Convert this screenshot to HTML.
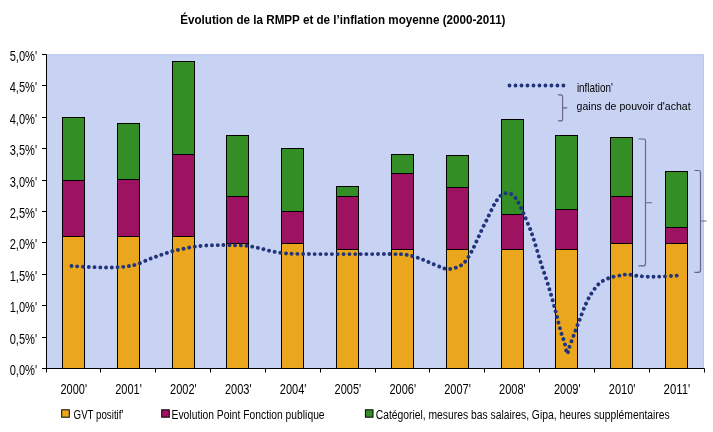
<!DOCTYPE html>
<html lang="fr"><head><meta charset="utf-8"><title>Évolution de la RMPP</title>
<style>
html,body{margin:0;padding:0;background:#fff;}
body{width:713px;height:432px;overflow:hidden;}
svg{display:block;}
text{font-family:"Liberation Sans",Arial,sans-serif;}
</style></head><body>
<svg width="713" height="432" viewBox="0 0 713 432">
<rect x="0" y="0" width="713" height="432" fill="#ffffff"/>
<rect x="46.0" y="54.3" width="658.0" height="314.2" fill="#c8d2f2"/>
<path d="M46.0 54.8 H703.5 V368.5" fill="none" stroke="#b9c5ee" stroke-width="1"/>
<rect x="62.5" y="236.5" width="22" height="132.0" fill="#eaa71e" stroke="#000000" stroke-width="1"/>
<rect x="62.5" y="180.5" width="22" height="56.0" fill="#9e1361" stroke="#000000" stroke-width="1"/>
<rect x="62.5" y="117.5" width="22" height="63.0" fill="#338f25" stroke="#000000" stroke-width="1"/>
<rect x="117.5" y="236.5" width="22" height="132.0" fill="#eaa71e" stroke="#000000" stroke-width="1"/>
<rect x="117.5" y="179.5" width="22" height="57.0" fill="#9e1361" stroke="#000000" stroke-width="1"/>
<rect x="117.5" y="123.5" width="22" height="56.0" fill="#338f25" stroke="#000000" stroke-width="1"/>
<rect x="172.5" y="236.5" width="22" height="132.0" fill="#eaa71e" stroke="#000000" stroke-width="1"/>
<rect x="172.5" y="154.5" width="22" height="82.0" fill="#9e1361" stroke="#000000" stroke-width="1"/>
<rect x="172.5" y="61.5" width="22" height="93.0" fill="#338f25" stroke="#000000" stroke-width="1"/>
<rect x="226.5" y="243.5" width="22" height="125.0" fill="#eaa71e" stroke="#000000" stroke-width="1"/>
<rect x="226.5" y="196.5" width="22" height="47.0" fill="#9e1361" stroke="#000000" stroke-width="1"/>
<rect x="226.5" y="135.5" width="22" height="61.0" fill="#338f25" stroke="#000000" stroke-width="1"/>
<rect x="281.5" y="243.5" width="22" height="125.0" fill="#eaa71e" stroke="#000000" stroke-width="1"/>
<rect x="281.5" y="211.5" width="22" height="32.0" fill="#9e1361" stroke="#000000" stroke-width="1"/>
<rect x="281.5" y="148.5" width="22" height="63.0" fill="#338f25" stroke="#000000" stroke-width="1"/>
<rect x="336.5" y="249.5" width="22" height="119.0" fill="#eaa71e" stroke="#000000" stroke-width="1"/>
<rect x="336.5" y="196.5" width="22" height="53.0" fill="#9e1361" stroke="#000000" stroke-width="1"/>
<rect x="336.5" y="186.5" width="22" height="10.0" fill="#338f25" stroke="#000000" stroke-width="1"/>
<rect x="391.5" y="249.5" width="22" height="119.0" fill="#eaa71e" stroke="#000000" stroke-width="1"/>
<rect x="391.5" y="173.5" width="22" height="76.0" fill="#9e1361" stroke="#000000" stroke-width="1"/>
<rect x="391.5" y="154.5" width="22" height="19.0" fill="#338f25" stroke="#000000" stroke-width="1"/>
<rect x="446.5" y="249.5" width="22" height="119.0" fill="#eaa71e" stroke="#000000" stroke-width="1"/>
<rect x="446.5" y="187.5" width="22" height="62.0" fill="#9e1361" stroke="#000000" stroke-width="1"/>
<rect x="446.5" y="155.5" width="22" height="32.0" fill="#338f25" stroke="#000000" stroke-width="1"/>
<rect x="501.5" y="249.5" width="22" height="119.0" fill="#eaa71e" stroke="#000000" stroke-width="1"/>
<rect x="501.5" y="214.5" width="22" height="35.0" fill="#9e1361" stroke="#000000" stroke-width="1"/>
<rect x="501.5" y="119.5" width="22" height="95.0" fill="#338f25" stroke="#000000" stroke-width="1"/>
<rect x="555.5" y="249.5" width="22" height="119.0" fill="#eaa71e" stroke="#000000" stroke-width="1"/>
<rect x="555.5" y="209.5" width="22" height="40.0" fill="#9e1361" stroke="#000000" stroke-width="1"/>
<rect x="555.5" y="135.5" width="22" height="74.0" fill="#338f25" stroke="#000000" stroke-width="1"/>
<rect x="610.5" y="243.5" width="22" height="125.0" fill="#eaa71e" stroke="#000000" stroke-width="1"/>
<rect x="610.5" y="196.5" width="22" height="47.0" fill="#9e1361" stroke="#000000" stroke-width="1"/>
<rect x="610.5" y="137.5" width="22" height="59.0" fill="#338f25" stroke="#000000" stroke-width="1"/>
<rect x="665.5" y="243.5" width="22" height="125.0" fill="#eaa71e" stroke="#000000" stroke-width="1"/>
<rect x="665.5" y="227.5" width="22" height="16.0" fill="#9e1361" stroke="#000000" stroke-width="1"/>
<rect x="665.5" y="171.5" width="22" height="56.0" fill="#338f25" stroke="#000000" stroke-width="1"/>
<path d="M46.5 54.3 V372.5 M42.0 368.5 H704.5 M42.0 337.5 H46.5 M42.0 305.5 H46.5 M42.0 274.5 H46.5 M42.0 242.5 H46.5 M42.0 211.5 H46.5 M42.0 180.5 H46.5 M42.0 148.5 H46.5 M42.0 117.5 H46.5 M42.0 85.5 H46.5 M42.0 54.5 H46.5 M100.5 368.5 V372.5 M155.5 368.5 V372.5 M210.5 368.5 V372.5 M265.5 368.5 V372.5 M320.5 368.5 V372.5 M375.5 368.5 V372.5 M429.5 368.5 V372.5 M484.5 368.5 V372.5 M539.5 368.5 V372.5 M594.5 368.5 V372.5 M649.5 368.5 V372.5 M704.5 368.5 V372.5 " stroke="#000000" stroke-width="1" fill="none"/>
<path d="M71.5 266.0 C74.6 266.2 84.2 266.8 90.0 267.0 C95.8 267.2 101.8 267.5 106.6 267.5 C111.4 267.5 115.4 267.4 119.0 267.2 C122.6 267.0 125.1 266.7 128.2 266.2 C131.3 265.7 134.0 265.3 137.4 264.2 C140.8 263.1 145.1 260.8 148.8 259.3 C152.5 257.8 155.9 256.7 159.6 255.4 C163.3 254.1 167.2 252.7 171.0 251.6 C174.8 250.5 178.6 249.8 182.4 249.0 C186.2 248.2 189.9 247.4 193.7 246.8 C197.5 246.2 201.1 245.9 205.1 245.6 C209.1 245.3 212.7 245.2 217.7 245.1 C222.7 245.0 230.3 245.1 235.2 245.2 C240.1 245.3 243.1 245.3 247.0 245.8 C250.9 246.3 254.7 247.1 258.6 248.0 C262.5 248.9 266.6 250.2 270.5 251.0 C274.4 251.8 278.2 252.5 282.1 253.0 C286.0 253.5 287.7 253.6 294.0 253.8 C300.3 254.0 309.0 254.1 320.0 254.1 C331.0 254.1 347.2 254.1 360.0 254.1 C372.8 254.1 389.0 254.0 396.8 254.1 C404.6 254.2 403.0 254.2 406.6 254.8 C410.2 255.4 414.4 256.6 418.2 257.9 C422.0 259.2 425.5 260.8 429.3 262.4 C433.1 263.9 438.0 266.1 440.9 267.2 C443.8 268.3 444.6 268.8 446.5 269.0 C448.4 269.2 450.3 269.0 452.1 268.7 C453.9 268.4 455.7 267.7 457.4 267.0 C459.1 266.3 460.8 265.6 462.4 264.4 C463.9 263.2 465.0 262.0 466.7 259.6 C468.4 257.2 470.7 253.2 472.5 249.8 C474.3 246.4 475.9 242.5 477.6 238.9 C479.3 235.3 480.9 231.7 482.6 228.1 C484.3 224.5 486.3 220.7 488.0 217.2 C489.7 213.7 491.7 209.5 493.0 206.9 C494.3 204.3 494.9 203.3 496.0 201.6 C497.1 199.9 498.4 197.8 499.8 196.5 C501.2 195.2 502.7 194.0 504.4 193.5 C506.1 193.0 508.2 192.9 510.0 193.5 C511.8 194.1 513.6 195.8 515.0 197.3 C516.4 198.8 516.9 199.7 518.3 202.3 C519.7 204.9 521.7 209.3 523.3 212.9 C524.9 216.5 526.3 219.9 527.9 223.8 C529.5 227.7 530.5 229.6 532.7 236.2 C534.9 242.8 538.6 255.7 540.9 263.1 C543.2 270.5 544.9 274.7 546.7 280.4 C548.5 286.1 550.2 291.7 551.8 297.4 C553.4 303.1 554.9 308.9 556.4 314.5 C557.9 320.1 559.3 326.6 560.7 331.3 C562.1 336.0 563.5 338.9 564.6 342.7 C565.7 346.4 566.4 352.9 567.1 353.8 C567.9 354.7 568.0 350.8 569.1 347.8 C570.2 344.8 571.8 340.6 573.5 335.9 C575.2 331.2 577.5 325.2 579.6 319.8 C581.7 314.4 584.1 307.8 586.2 303.3 C588.3 298.8 589.8 295.9 592.0 292.6 C594.2 289.3 596.5 285.9 599.4 283.4 C602.3 280.9 606.0 279.1 609.6 277.8 C613.2 276.5 618.2 275.9 621.3 275.3 C624.4 274.8 625.1 274.4 628.0 274.5 C630.9 274.6 634.6 275.6 638.4 276.0 C642.2 276.4 646.6 276.7 650.6 276.8 C654.6 276.9 658.6 276.7 662.6 276.5 C666.6 276.3 671.8 275.9 674.5 275.8 C677.2 275.7 678.2 275.6 679.0 275.6" fill="none" stroke="#22357c" stroke-width="3.9" stroke-linecap="round" stroke-dasharray="0.01 5.74"/>
<path d="M509.5 85.5 H564" fill="none" stroke="#22357c" stroke-width="3.9" stroke-linecap="round" stroke-dasharray="0.01 5.98"/>
<path d="M558 94.9 H560.6 Q562.6 94.9 562.6 96.9 V118.9 M562.6 107.9 H567.2 M562.6 118.9 Q562.6 120.9 560.6 120.9 H558" fill="none" stroke="#66628f" stroke-width="1.15"/>
<path d="M638.5 139 H643.5 Q645.5 139 645.5 141 V263.8 M645.5 202.7 H652 M645.5 263.8 Q645.5 265.8 643.5 265.8 H638.5" fill="none" stroke="#66628f" stroke-width="1.15"/>
<path d="M694.5 170.5 H698.5 Q700.5 170.5 700.5 172.5 V270.3 M700.5 221 H706.5 M700.5 270.3 Q700.5 272.3 698.5 272.3 H694.5" fill="none" stroke="#66628f" stroke-width="1.15"/>
<text x="180.2" y="23.7" font-size="13" textLength="325.3" lengthAdjust="spacingAndGlyphs" font-weight="bold" fill="#000000">Évolution de la RMPP et de l’inflation moyenne (2000-2011)</text>
<text x="9.7" y="374.9" font-size="14" textLength="27.4" lengthAdjust="spacingAndGlyphs" fill="#000000">0,0%'</text>
<text x="9.7" y="343.5" font-size="14" textLength="27.4" lengthAdjust="spacingAndGlyphs" fill="#000000">0,5%'</text>
<text x="9.7" y="312.1" font-size="14" textLength="27.4" lengthAdjust="spacingAndGlyphs" fill="#000000">1,0%'</text>
<text x="9.7" y="280.7" font-size="14" textLength="27.4" lengthAdjust="spacingAndGlyphs" fill="#000000">1,5%'</text>
<text x="9.7" y="249.3" font-size="14" textLength="27.4" lengthAdjust="spacingAndGlyphs" fill="#000000">2,0%'</text>
<text x="9.7" y="217.9" font-size="14" textLength="27.4" lengthAdjust="spacingAndGlyphs" fill="#000000">2,5%'</text>
<text x="9.7" y="186.5" font-size="14" textLength="27.4" lengthAdjust="spacingAndGlyphs" fill="#000000">3,0%'</text>
<text x="9.7" y="155.1" font-size="14" textLength="27.4" lengthAdjust="spacingAndGlyphs" fill="#000000">3,5%'</text>
<text x="9.7" y="123.7" font-size="14" textLength="27.4" lengthAdjust="spacingAndGlyphs" fill="#000000">4,0%'</text>
<text x="9.7" y="92.3" font-size="14" textLength="27.4" lengthAdjust="spacingAndGlyphs" fill="#000000">4,5%'</text>
<text x="9.7" y="60.9" font-size="14" textLength="27.4" lengthAdjust="spacingAndGlyphs" fill="#000000">5,0%'</text>
<text x="60.4" y="394" font-size="14" textLength="26.6" lengthAdjust="spacingAndGlyphs" fill="#000000">2000'</text>
<text x="115.2" y="394" font-size="14" textLength="26.6" lengthAdjust="spacingAndGlyphs" fill="#000000">2001'</text>
<text x="170.1" y="394" font-size="14" textLength="26.6" lengthAdjust="spacingAndGlyphs" fill="#000000">2002'</text>
<text x="224.9" y="394" font-size="14" textLength="26.6" lengthAdjust="spacingAndGlyphs" fill="#000000">2003'</text>
<text x="279.8" y="394" font-size="14" textLength="26.6" lengthAdjust="spacingAndGlyphs" fill="#000000">2004'</text>
<text x="334.6" y="394" font-size="14" textLength="26.6" lengthAdjust="spacingAndGlyphs" fill="#000000">2005'</text>
<text x="389.4" y="394" font-size="14" textLength="26.6" lengthAdjust="spacingAndGlyphs" fill="#000000">2006'</text>
<text x="444.2" y="394" font-size="14" textLength="26.6" lengthAdjust="spacingAndGlyphs" fill="#000000">2007'</text>
<text x="499.1" y="394" font-size="14" textLength="26.6" lengthAdjust="spacingAndGlyphs" fill="#000000">2008'</text>
<text x="553.9" y="394" font-size="14" textLength="26.6" lengthAdjust="spacingAndGlyphs" fill="#000000">2009'</text>
<text x="608.8" y="394" font-size="14" textLength="26.6" lengthAdjust="spacingAndGlyphs" fill="#000000">2010'</text>
<text x="663.6" y="394" font-size="14" textLength="26.6" lengthAdjust="spacingAndGlyphs" fill="#000000">2011'</text>
<rect x="61.7" y="409.8" width="7.6" height="7.4" fill="#eaa71e" stroke="#000000" stroke-width="1"/>
<rect x="161.7" y="409.8" width="7.6" height="7.4" fill="#9e1361" stroke="#000000" stroke-width="1"/>
<rect x="365.4" y="409.8" width="7.6" height="7.4" fill="#338f25" stroke="#000000" stroke-width="1"/>
<text x="73.6" y="418.7" font-size="12.3" textLength="49.7" lengthAdjust="spacingAndGlyphs" fill="#000000">GVT positif'</text>
<text x="171.6" y="418.7" font-size="12.3" textLength="153" lengthAdjust="spacingAndGlyphs" fill="#000000">Evolution Point Fonction publique</text>
<text x="375.7" y="418.7" font-size="12.3" textLength="294" lengthAdjust="spacingAndGlyphs" fill="#000000">Catégoriel, mesures bas salaires, Gipa, heures supplémentaires</text>
<text x="576.9" y="91.5" font-size="12.2" textLength="35.9" lengthAdjust="spacingAndGlyphs" fill="#000000">inflation'</text>
<text x="576.6" y="110.1" font-size="11.2" textLength="114" lengthAdjust="spacingAndGlyphs" fill="#000000">gains de pouvoir d'achat</text>
</svg>
</body></html>
